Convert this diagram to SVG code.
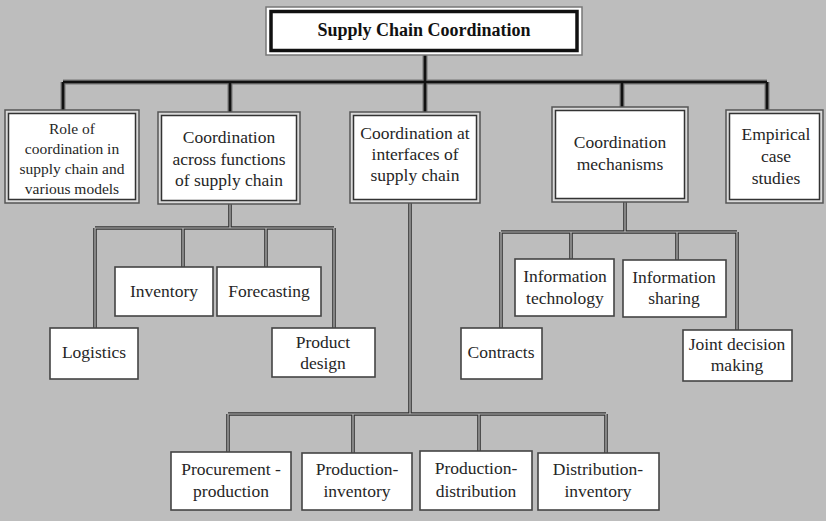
<svg xmlns="http://www.w3.org/2000/svg" width="826" height="521" viewBox="0 0 826 521">
<style>
text{font-family:"Liberation Serif","Times New Roman",serif;fill:#262626;text-anchor:middle}
.t1{font-size:17.5px}
.t2{font-size:17.5px}
.tr{font-size:15.5px}
.title{font-size:18px;font-weight:bold;fill:#111}
.outer{fill:#d9d9d9;stroke:#555;stroke-width:1.5}
.inner{fill:#fff;stroke:#333;stroke-width:1.5}
.box{fill:#fff;stroke:#444;stroke-width:1.6}
.main{fill:none;stroke:#777;stroke-width:5}
.mainc{fill:none;stroke:#111;stroke-width:2.6}
.dbl{fill:none;stroke:#333;stroke-width:3.6}
.dblc{fill:none;stroke:#bbb;stroke-width:1.2}
</style>
<rect width="826" height="521" fill="#bdbdbd"/>
<g id="connectors">
<path class="main" d="M425 55V82M63 82H767M63 82V110M230 82V112M425 82V112M622 82V107M767 82V110"/>
<path class="mainc" d="M425 55V82M63 82H767M63 82V110M230 82V112M425 82V112M622 82V107M767 82V110"/>
<path class="dbl" d="M230 204V228M95 228H334M95 228V328M183 228V267M266 228V267M334 228V328"/>
<path class="dblc" d="M230 204V228M95 228H334M95 228V328M183 228V267M266 228V267M334 228V328"/>
<path class="dbl" d="M625 202V232M501 232H737M501 232V328M571 232V259M677 232V260M737 232V330"/>
<path class="dblc" d="M625 202V232M501 232H737M501 232V328M571 232V259M677 232V260M737 232V330"/>
<path class="dbl" d="M410 203V414M228 414H606M228 414V452M353 414V453M479 414V451M606 414V453"/>
<path class="dblc" d="M410 203V414M228 414H606M228 414V452M353 414V453M479 414V451M606 414V453"/>
</g>
<g id="title">
<rect x="266" y="7" width="316" height="48" fill="#fff" stroke="#777" stroke-width="1.5"/>
<rect x="271" y="11.5" width="306" height="39" fill="#fff" stroke="#111" stroke-width="3.5"/>
<text class="title" x="424" y="36">Supply Chain Coordination</text>
</g>
<g id="role">
<rect class="outer" x="5" y="110" width="134" height="93"/>
<rect class="inner" x="8.5" y="113.5" width="127" height="86"/>
<text class="tr" x="72" y="134">Role of</text>
<text class="tr" x="72" y="154">coordination in</text>
<text class="tr" x="72" y="174">supply chain and</text>
<text class="tr" x="72" y="194">various models</text>
</g>
<g id="across">
<rect class="outer" x="158" y="112" width="142" height="92"/>
<rect class="inner" x="161.5" y="115.5" width="135" height="85"/>
<text class="t1" x="229" y="143">Coordination</text>
<text class="t1" x="229" y="165">across functions</text>
<text class="t1" x="229" y="186">of supply chain</text>
</g>
<g id="interfaces">
<rect class="outer" x="350" y="112" width="130" height="91"/>
<rect class="inner" x="353.5" y="115.5" width="123" height="84"/>
<text class="t1" x="415" y="139">Coordination at</text>
<text class="t1" x="415" y="160">interfaces of</text>
<text class="t1" x="415" y="181">supply chain</text>
</g>
<g id="mechanisms">
<rect class="outer" x="552" y="107" width="136" height="95"/>
<rect class="inner" x="555.5" y="110.5" width="129" height="88"/>
<text class="t1" x="620" y="148">Coordination</text>
<text class="t1" x="620" y="170">mechanisms</text>
</g>
<g id="empirical">
<rect class="outer" x="726" y="110" width="97" height="93"/>
<rect class="inner" x="729.5" y="113.5" width="90" height="86"/>
<text class="t1" x="776" y="140">Empirical</text>
<text class="t1" x="776" y="162">case</text>
<text class="t1" x="776" y="184">studies</text>
</g>
<g id="inventory">
<rect class="box" x="115" y="267" width="98" height="49"/>
<text class="t2" x="164" y="297">Inventory</text>
</g>
<g id="forecasting">
<rect class="box" x="217" y="267" width="104" height="49"/>
<text class="t2" x="269" y="297">Forecasting</text>
</g>
<g id="logistics">
<rect class="box" x="50" y="328" width="88" height="51"/>
<text class="t2" x="94" y="358">Logistics</text>
</g>
<g id="product-design">
<rect class="box" x="272" y="328" width="103" height="49"/>
<text class="t2" x="323" y="348">Product</text>
<text class="t2" x="323" y="369">design</text>
</g>
<g id="info-tech">
<rect class="box" x="515" y="259" width="99" height="57"/>
<text class="t2" x="565" y="282">Information</text>
<text class="t2" x="565" y="304">technology</text>
</g>
<g id="info-sharing">
<rect class="box" x="623" y="260" width="103" height="57"/>
<text class="t2" x="674" y="283">Information</text>
<text class="t2" x="674" y="304">sharing</text>
</g>
<g id="contracts">
<rect class="box" x="461" y="328" width="81" height="51"/>
<text class="t2" x="501" y="358">Contracts</text>
</g>
<g id="joint">
<rect class="box" x="683" y="330" width="109" height="51"/>
<text class="t2" x="737" y="350">Joint decision</text>
<text class="t2" x="737" y="371">making</text>
</g>
<g id="procurement">
<rect class="box" x="171" y="452" width="120" height="58"/>
<text class="t2" x="231" y="475">Procurement -</text>
<text class="t2" x="231" y="497">production</text>
</g>
<g id="prod-inv">
<rect class="box" x="302" y="453" width="110" height="57"/>
<text class="t2" x="357" y="475">Production-</text>
<text class="t2" x="357" y="497">inventory</text>
</g>
<g id="prod-dist">
<rect class="box" x="420" y="451" width="112" height="59"/>
<text class="t2" x="476" y="474">Production-</text>
<text class="t2" x="476" y="497">distribution</text>
</g>
<g id="dist-inv">
<rect class="box" x="538" y="453" width="121" height="57"/>
<text class="t2" x="598" y="475">Distribution-</text>
<text class="t2" x="598" y="497">inventory</text>
</g>
</svg>
